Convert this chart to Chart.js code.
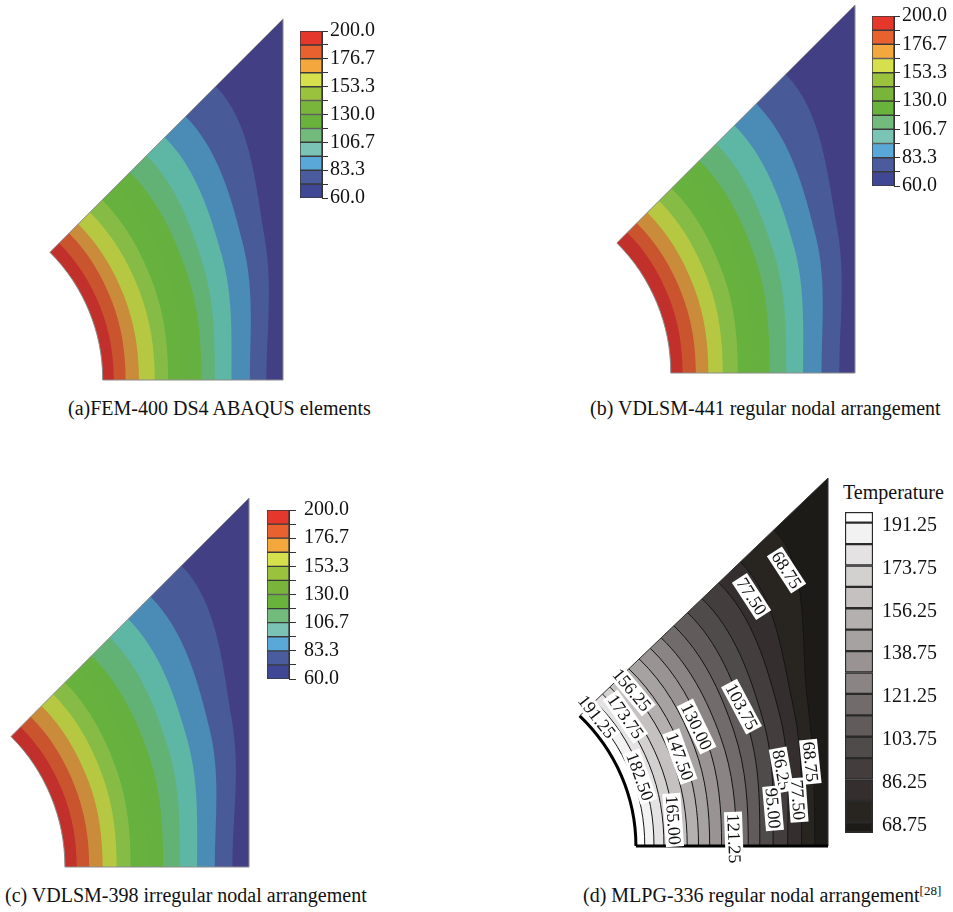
<!DOCTYPE html>
<html>
<head>
<meta charset="utf-8">
<script src="https://cdn.jsdelivr.net/npm/chart.js@4.4.1/dist/chart.umd.min.js"></script>
<style>
  html, body { margin: 0; padding: 0; background: #fff; }
  #page { position: relative; width: 953px; height: 912px; overflow: hidden; font-family: "Liberation Serif", "Times New Roman", serif; color: #111; }
  #page canvas { position: absolute; }
  .cap { position: absolute; font-size: 20px; line-height: 20px; white-space: nowrap; }
  .cap sup { font-size: 13px; vertical-align: 7px; line-height: 0; }
</style>
</head>
<body>
<div id="page">
  <div class="cap" style="left:68px; top:398px">(a)FEM-400 DS4 ABAQUS elements</div>
  <div class="cap" style="left:590px; top:398px">(b) VDLSM-441 regular nodal arrangement</div>
  <div class="cap" style="left:5px; top:885px">(c) VDLSM-398 irregular nodal arrangement</div>
  <div class="cap" style="left:583px; top:885px">(d) MLPG-336 regular nodal arrangement<sup>[28]</sup></div>
  <div class="cap" style="left:843px; top:482px">Temperature</div>
</div>
<script>
// temperature levels of the colour plots (a)-(c), hole edge first
const rgbLevels = [200, 188.3, 176.7, 165, 153.3, 141.7, 130, 118.3, 106.7, 95, 83.3, 71.7, 60];
const rgbTickLabels = ['200.0', '176.7', '153.3', '130.0', '106.7', '83.3', '60.0'];

// where the contours 188.3 ... 71.7 cut the lower edge (0 deg), the 22.5 deg ray
// and the 45 deg edge, as radius in hole radii
const aBottom = [1.061, 1.127, 1.201, 1.289, 1.363, 1.446, 1.548, 1.622, 1.714, 1.816, 1.908];
const aMid    = [1.066, 1.138, 1.211, 1.301, 1.386, 1.483, 1.584, 1.683, 1.798, 1.928, 2.055];
const aDiag   = [1.072, 1.150, 1.222, 1.314, 1.410, 1.520, 1.627, 1.758, 1.901, 2.064, 2.301];

const bBottom = [1.064, 1.136, 1.204, 1.282, 1.364, 1.450, 1.536, 1.627, 1.718, 1.818, 1.915];
const bMid    = [1.072, 1.144, 1.219, 1.303, 1.392, 1.490, 1.585, 1.690, 1.805, 1.935, 2.060];
const bDiag   = [1.080, 1.152, 1.234, 1.324, 1.420, 1.530, 1.633, 1.762, 1.903, 2.070, 2.296];

const cBottom = [1.064, 1.132, 1.205, 1.281, 1.357, 1.445, 1.534, 1.625, 1.718, 1.814, 1.910];
const cMid    = [1.069, 1.141, 1.220, 1.302, 1.385, 1.482, 1.577, 1.689, 1.802, 1.935, 2.065];
const cDiag   = [1.074, 1.151, 1.235, 1.324, 1.414, 1.520, 1.619, 1.760, 1.900, 2.072, 2.310];

// plot (d): grey contour levels and their cuts
const grayLevels = [191.25, 182.5, 173.75, 165, 156.25, 147.5, 138.75, 130, 121.25, 112.5, 103.75, 95, 86.25, 77.5, 68.75];
const grayTickLabels = ['191.25', '173.75', '156.25', '138.75', '121.25', '103.75', '86.25', '68.75'];
const grayBarEnds = [195.6, 64.4];
const dBottom = [1.046, 1.094, 1.146, 1.201, 1.267, 1.326, 1.384, 1.446, 1.523, 1.585, 1.645, 1.714, 1.790, 1.862, 1.931];
const dMid    = [1.050, 1.102, 1.157, 1.211, 1.279, 1.344, 1.411, 1.483, 1.558, 1.634, 1.712, 1.798, 1.890, 1.970, 2.050];
const dDiag   = [1.054, 1.111, 1.168, 1.222, 1.291, 1.362, 1.438, 1.520, 1.600, 1.693, 1.794, 1.901, 2.023, 2.183, 2.430];

// contour labels of plot (d), placed in plot units
const dTags = [
  {text: '68.75', x: 1.784, y: 1.500, rot: 57},
  {text: '77.50', x: 1.602, y: 1.356, rot: 57},
  {text: '156.25', x: 0.978, y: 0.848, rot: 50},
  {text: '173.75', x: 0.946, y: 0.703, rot: 55},
  {text: '191.25', x: 0.796, y: 0.703, rot: 52},
  {text: '103.75', x: 1.550, y: 0.757, rot: 62},
  {text: '130.00', x: 1.316, y: 0.649, rot: 64},
  {text: '147.50', x: 1.229, y: 0.486, rot: 70},
  {text: '182.50', x: 1.021, y: 0.377, rot: 70},
  {text: '165.00', x: 1.194, y: 0.141, rot: 86},
  {text: '121.25', x: 1.510, y: 0.040, rot: 88},
  {text: '86.25', x: 1.758, y: 0.413, rot: 80},
  {text: '95.00', x: 1.714, y: 0.205, rot: 85},
  {text: '77.50', x: 1.844, y: 0.250, rot: 86},
  {text: '68.75', x: 1.908, y: 0.458, rot: 84}
];

// styles
const plotColors = ['#c1302b', '#c9542e', '#ca8b3b', '#b6c842', '#86bc46', '#67b13e', '#65b03f', '#62b276', '#5eb6a5', '#4b8cb7', '#485b98', '#433f85'];
const barColors  = ['#e6372d', '#e9612f', '#f4a73c', '#d6df4c', '#9ac23d', '#79b53b', '#69b23c', '#73ba7d', '#7bc4b5', '#59a8d8', '#4a5c9e', '#404896'];
const grayColors = ['#ffffff', '#f2f2f2', '#e4e2e2', '#d3d0d0', '#c5c1c1', '#b5b0b0', '#a7a2a2', '#999393', '#8a8484', '#716b6b', '#615b5b', '#504b4b', '#433e3d', '#342f2e', '#282521', '#1d1b18'];
const SERIF = '"Liberation Serif", "Times New Roman", serif';
const HOLE = 1, HALF = 2;

const page = document.getElementById('page');

function polar(r, deg) {
  const a = deg * Math.PI / 180;
  return {x: r * Math.cos(a), y: r * Math.sin(a)};
}
// the field is mirror-symmetric about the lower edge and the 45 deg edge, so a contour
// read at 0 / 22.5 / 45 deg continues the same way on the other side of both edges
const loopAngles = [-45, -22.5, 0, 22.5, 45, 67.5, 90, 112.5, 135];
function loop(r0, rm, r45) {
  const r = [r45, rm, r0, rm, r45, rm, r0, rm, r45];
  return loopAngles.map((a, i) => polar(r[i], a));
}
const shape = (data, color, tension = 0.35) => ({data, fill: 'shape', backgroundColor: color, borderWidth: 0, tension, pointRadius: 0});
const stroke = (data, color, width, tension = 0.35, clip) => ({data, fill: false, borderColor: color, borderWidth: width, tension, pointRadius: 0, clip});

const cover = [{x: 0, y: 0}, {x: 3, y: 0}, {x: 3, y: 3}, {x: 0, y: 3}];
const aboveDiag = [{x: 0, y: 0}, {x: 3, y: 3}, {x: 0, y: 3}];
const holeLoop = loop(HOLE, HOLE, HOLE);
const h0 = polar(HOLE, 0), h45 = polar(HOLE, 45);

function addCanvas(left, top, w, h) {
  const cv = document.createElement('canvas');
  cv.width = w; cv.height = h;
  cv.style.left = left + 'px'; cv.style.top = top + 'px';
  page.appendChild(cv);
  return cv;
}

function plotChart(geo, datasets, plugins) {
  const L = Math.round(geo.ox + geo.xmin * geo.sx), R = Math.round(geo.ox + HALF * geo.sx);
  const T = Math.round(geo.oy - HALF * geo.sy), B = Math.round(geo.oy);
  const p = geo.pad;
  const cv = addCanvas(L - p, T - p, R - L + 2 * p, B - T + 2 * p);
  return new Chart(cv, {
    type: 'line',
    data: {datasets},
    options: {
      responsive: false, animation: false, events: [], devicePixelRatio: 1,
      layout: {padding: p},
      plugins: {legend: {display: false}, tooltip: {enabled: false}},
      elements: {point: {radius: 0}, line: {capBezierPoints: false}},
      scales: {
        x: {type: 'linear', display: false, min: (L - geo.ox) / geo.sx, max: HALF},
        y: {type: 'linear', display: false, min: 0, max: HALF}
      }
    },
    plugins: plugins || []
  });
}

// painting order: coldest cover, contours from outside in, hole, mask above the 45 deg edge, edges
function rgbSets(bottom, mid, diag) {
  const sets = [shape(cover, plotColors[plotColors.length - 1], 0)];
  for (let k = bottom.length - 1; k >= 0; k--) {
    sets.push(shape(loop(bottom[k], mid[k], diag[k]), plotColors[k]));
  }
  sets.push({...shape(holeLoop, '#ffffff'), borderColor: '#8c8c8c', borderWidth: 1});
  sets.push(shape(aboveDiag, '#ffffff', 0));
  sets.push(stroke([h0, {x: HALF, y: 0}, {x: HALF, y: HALF}, h45], '#8c8c8c', 1, 0, false));
  return sets.reverse(); // first dataset is drawn last
}

function graySets() {
  const sets = [shape(cover, grayColors[grayColors.length - 1], 0)];
  for (let k = dBottom.length - 1; k >= 0; k--) {
    sets.push(shape(loop(dBottom[k], dMid[k], dDiag[k]), grayColors[k]));
  }
  dBottom.forEach((b, k) => sets.push(stroke(loop(b, dMid[k], dDiag[k]), '#151515', 1)));
  sets.push({...shape(holeLoop, '#ffffff'), borderColor: '#000', borderWidth: 3});
  sets.push(shape(aboveDiag, '#ffffff', 0));
  sets.push(stroke([{x: HALF, y: 0}, {x: HALF, y: HALF}, h45], '#333', 1, 0, false));
  sets.push(stroke([h0, {x: HALF, y: 0}], '#000', 3, 0, false));
  return sets.reverse();
}

function tagPlugin(items) {
  return {
    id: 'contourTags',
    afterDatasetsDraw(chart) {
      const {ctx, scales} = chart;
      ctx.save();
      ctx.font = '18px ' + SERIF;
      ctx.textAlign = 'center';
      ctx.textBaseline = 'middle';
      items.forEach(it => {
        const px = scales.x.getPixelForValue(it.x), py = scales.y.getPixelForValue(it.y);
        const w = ctx.measureText(it.text).width + 4, h = 18;
        ctx.save();
        ctx.translate(px, py);
        ctx.rotate(it.rot * Math.PI / 180);
        ctx.fillStyle = '#ffffff';
        ctx.fillRect(-w / 2, -h / 2, w, h);
        ctx.fillStyle = '#111';
        ctx.fillText(it.text, 0, 1);
        ctx.restore();
      });
      ctx.restore();
    }
  };
}

// colour bar: floating bars between consecutive levels, labels on a right axis
function colorBar(geo, levels, colors, labels) {
  const padV = 26; // more than half a label plus the tick padding, so the bar keeps its size
  const cv = addCanvas(geo.x, geo.y - padV, geo.w + geo.axisW, geo.h + 2 * padV);
  const wanted = labels.map(Number);
  const datasets = colors.map((c, j) => ({
    data: [[levels[j + 1], levels[j]]], backgroundColor: c, borderColor: geo.line, borderWidth: geo.lineW,
    borderSkipped: false, grouped: false, barPercentage: 1, categoryPercentage: 1
  }));
  return new Chart(cv, {
    type: 'bar',
    data: {labels: [''], datasets},
    options: {
      responsive: false, animation: false, events: [], devicePixelRatio: 1,
      layout: {padding: {top: padV, bottom: padV, left: 0, right: 0}},
      plugins: {legend: {display: false}, tooltip: {enabled: false}},
      scales: {
        x: {display: false},
        y: {
          position: 'right',
          min: levels[levels.length - 1], max: levels[0],
          afterFit: a => { a.width = geo.axisW; },
          afterBuildTicks: a => { a.ticks = levels.map(v => ({value: v})); },
          ticks: {
            autoSkip: false, padding: geo.tickPad, color: '#111', labelOffset: geo.labelShift || 0,
            font: {family: SERIF, size: 20},
            callback: v => {
              const i = wanted.findIndex(w => Math.abs(w - v) < 0.05);
              return i >= 0 ? labels[i] : '';
            }
          },
          grid: {drawOnChartArea: false, drawTicks: geo.tickLen > 0, tickLength: geo.tickLen, color: '#333'},
          border: {display: geo.tickLen > 0, color: '#333'}
        }
      }
    }
  });
}

// (a)
plotChart({ox: -77.7, oy: 380, sx: 180.5, sy: 180.5, xmin: 0.66, pad: 8}, rgbSets(aBottom, aMid, aDiag));
colorBar({x: 300, y: 31, w: 22, h: 167, axisW: 70, tickLen: 6, tickPad: 2, line: '#3a3a3a', lineW: 1},
  rgbLevels, barColors, rgbTickLabels);
// (b)
plotChart({ox: 486.7, oy: 372.7, sx: 184, sy: 184, xmin: 0.66, pad: 8}, rgbSets(bBottom, bMid, bDiag));
colorBar({x: 872, y: 16, w: 22, h: 170, axisW: 66, tickLen: 6, tickPad: 2, line: '#3a3a3a', lineW: 1},
  rgbLevels, barColors, rgbTickLabels);
// (c)
plotChart({ox: -119.3, oy: 866.7, sx: 184.3, sy: 184.3, xmin: 0.66, pad: 8}, rgbSets(cBottom, cMid, cDiag));
colorBar({x: 267, y: 510, w: 22, h: 169, axisW: 80, tickLen: 7, tickPad: 8, line: '#3a3a3a', lineW: 1},
  rgbLevels, barColors, rgbTickLabels);
// (d)
plotChart({ox: 443.7, oy: 846, sx: 192.3, sy: 183.9, xmin: 0.62, pad: 30}, graySets(), [tagPlugin(dTags)]);
colorBar({x: 845, y: 512, w: 28, h: 321, axisW: 80, tickLen: 0, tickPad: 9, labelShift: 3, line: '#2a2a2a', lineW: 1.5},
  [grayBarEnds[0], ...grayLevels, grayBarEnds[1]], grayColors, grayTickLabels);
</script>
</body>
</html>
